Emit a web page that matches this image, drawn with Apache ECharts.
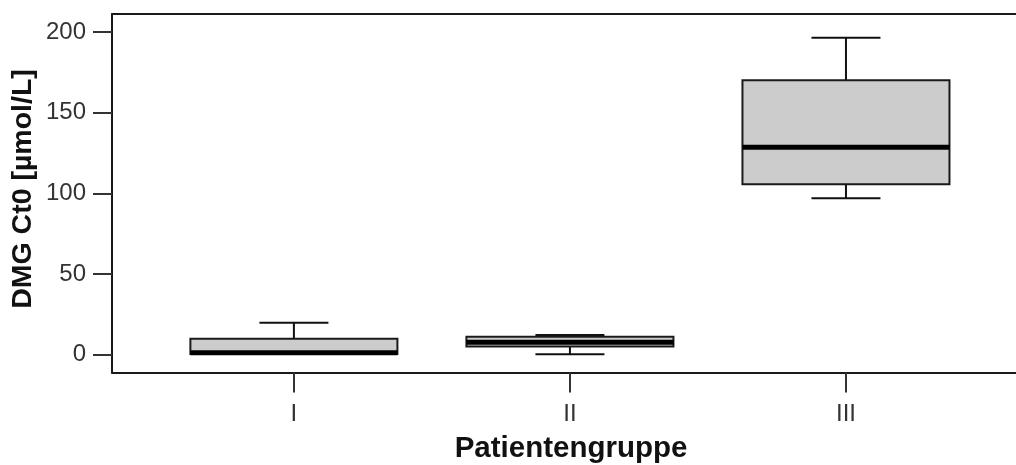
<!DOCTYPE html>
<html>
<head>
<meta charset="utf-8">
<script src="https://cdn.jsdelivr.net/npm/echarts@6/dist/echarts.min.js"></script>
<style>
  html, body { margin: 0; padding: 0; background: #ffffff; }
  #chart { width: 1016px; height: 465px; }
</style>
</head>
<body>
<div id="chart"></div>
<script>
// ---- Data ----
const categories = ['I', 'II', 'III'];
const positions = [1, 2, 3];
const minVals    = [0.3, 0.2, 97];
const q1Vals     = [0.3, 5, 105.7];
const medianVals = [1, 7.5, 128.6];
const q3Vals     = [9.7, 11, 170.2];
const maxVals    = [19.6, 12, 196.5];
const yTicks = [0, 50, 100, 150, 200];
const xTitle = 'Patientengruppe';
const yTitle = 'DMG Ct0 [µmol/L]';

const boxData = positions.map((p, i) => [p, minVals[i], q1Vals[i], medianVals[i], q3Vals[i], maxVals[i]]);

const FONT = '"Liberation Sans", Arial, sans-serif';
const chart = echarts.init(document.getElementById('chart'), null, { renderer: 'canvas' });

const X_MIN = 0.341, X_MAX = 3.616;

chart.setOption({
  backgroundColor: '#ffffff',
  animation: false,
  grid: { left: 112, top: 14, right: 0, bottom: 92.5, show: false },
  xAxis: [{
    type: 'value',
    min: X_MIN, max: X_MAX,
    position: 'bottom',
    splitLine: { show: false },
    axisLine: { show: true, onZero: false, lineStyle: { color: '#1a1a1a', width: 2 } },
    axisTick: { show: true, customValues: positions, length: 20, lineStyle: { color: '#333', width: 2 } },
    axisLabel: {
      customValues: positions, margin: 30,
      formatter: v => categories[Math.round(v) - 1] || '',
      fontFamily: FONT, fontSize: 24, color: '#333'
    }
  }, {
    type: 'value',
    min: X_MIN, max: X_MAX,
    position: 'top',
    splitLine: { show: false },
    axisLine: { show: true, onZero: false, lineStyle: { color: '#1a1a1a', width: 2 } },
    axisTick: { show: false },
    axisLabel: { show: false }
  }],
  yAxis: {
    type: 'value',
    min: -11.2, max: 211.3,
    splitLine: { show: false },
    axisLine: { show: true, onZero: false, lineStyle: { color: '#1a1a1a', width: 2 } },
    axisTick: { show: true, customValues: yTicks, length: 19, lineStyle: { color: '#333', width: 2 } },
    axisLabel: { customValues: yTicks, margin: 26, fontFamily: FONT, fontSize: 24, color: '#333' }
  },
  graphic: [
    { type: 'text', x: 571, y: 449, style: { text: xTitle, font: 'bold 29.5px ' + FONT, fill: '#111', align: 'center', verticalAlign: 'middle' } },
    { type: 'text', x: 23, y: 189, rotation: Math.PI / 2, style: { text: yTitle, font: 'bold 28.5px ' + FONT, fill: '#111', align: 'center', verticalAlign: 'middle' } }
  ],
  series: [{
    type: 'custom',
    xAxisIndex: 0,
    data: boxData,
    encode: { x: 0, y: [1, 2, 3, 4, 5] },
    renderItem: function (params, api) {
      const x = api.value(0);
      const mn = api.value(1), q1 = api.value(2), md = api.value(3), q3 = api.value(4), mx = api.value(5);
      const unit = api.size([1, 0])[0];
      const bw = unit * 0.75, cw = unit * 0.25;
      const pMin = api.coord([x, mn]), pQ1 = api.coord([x, q1]), pMd = api.coord([x, md]);
      const pQ3 = api.coord([x, q3]), pMx = api.coord([x, mx]);
      const cx = pMd[0];
      const lineStyle = { stroke: '#111', lineWidth: 2 };
      return {
        type: 'group',
        children: [
          { type: 'line', shape: { x1: cx, y1: pQ3[1], x2: cx, y2: pMx[1] }, style: lineStyle },
          { type: 'line', shape: { x1: cx, y1: pQ1[1], x2: cx, y2: pMin[1] }, style: lineStyle },
          { type: 'line', shape: { x1: cx - cw / 2, y1: pMx[1], x2: cx + cw / 2, y2: pMx[1] }, style: lineStyle },
          { type: 'line', shape: { x1: cx - cw / 2, y1: pMin[1], x2: cx + cw / 2, y2: pMin[1] }, style: lineStyle },
          { type: 'rect', shape: { x: cx - bw / 2, y: pQ3[1], width: bw, height: pQ1[1] - pQ3[1] },
            style: { fill: '#cccccc', stroke: '#1a1a1a', lineWidth: 2 } },
          { type: 'line', shape: { x1: cx - bw / 2, y1: pMd[1], x2: cx + bw / 2, y2: pMd[1] },
            style: { stroke: '#000', lineWidth: 5 } }
        ]
      };
    }
  }]
});
</script>
</body>
</html>
